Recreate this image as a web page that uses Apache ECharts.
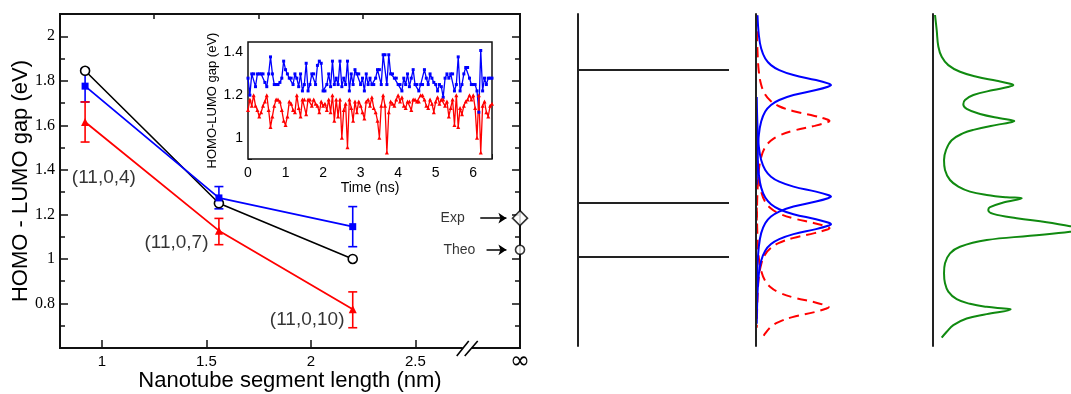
<!DOCTYPE html>
<html>
<head>
<meta charset="utf-8">
<script src="https://cdn.jsdelivr.net/npm/echarts@6/dist/echarts.min.js"></script>
<style>
  html, body { margin: 0; background: #fff; }
  #chart { width: 1071px; height: 394px; }
</style>
</head>
<body>
<div id="chart"></div>
<script>
// main panel: gap vs segment length of the (11,0,n) tubes
const segLength = [0.92, 1.56, 2.2];
const tubeNames = ['(11,0,4)', '(11,0,7)', '(11,0,10)'];
const tubeLabelPos = [[1.01, 1.366], [1.357, 1.074], [1.982, 0.729]];
const gapTheo = [1.845, 1.25, 1.0];
const gapBlue = [1.776, 1.274, 1.145];
const errBlue = [[1.705, 1.855], [1.225, 1.325], [1.055, 1.235]];
const gapRed = [1.615, 1.127, 0.774];
const errRed = [[1.525, 1.705], [1.064, 1.182], [0.691, 0.852]];
// infinite tube, drawn at x = 3 (the "∞" tick)
const infX = 3.0;
const gapExp = 1.183;
const gapTheoInf = 1.041;
const xTickLabels = [1, 1.5, 2, 2.5, 3];

// inset: gap along the MD run, one value every 0.05 ns
const dt = 0.05;
const blueRun = [
  1.28, 1.20, 1.30, 1.30, 1.24, 1.30, 1.30, 1.30, 1.30, 1.26,
  1.24, 1.30, 1.38, 1.30, 1.25, 1.25, 1.25, 1.26, 1.28, 1.36,
  1.32, 1.30, 1.28, 1.28, 1.25, 1.30, 1.28, 1.24, 1.30, 1.22,
  1.25, 1.35, 1.22, 1.25, 1.30, 1.30, 1.25, 1.34, 1.36, 1.35,
  1.22, 1.22, 1.25, 1.30, 1.24, 1.36, 1.25, 1.28, 1.25, 1.36,
  1.24, 1.28, 1.25, 1.36, 1.22, 1.30, 1.25, 1.32, 1.30, 1.30,
  1.25, 1.28, 1.22, 1.30, 1.25, 1.28, 1.25, 1.25, 1.28, 1.32,
  1.32, 1.25, 1.39, 1.39, 1.25, 1.39, 1.30, 1.30, 1.28, 1.28,
  1.25, 1.25, 1.22, 1.28, 1.25, 1.30, 1.24, 1.28, 1.32, 1.25,
  1.25, 1.22, 1.25, 1.25, 1.32, 1.28, 1.25, 1.30, 1.28, 1.26,
  1.25, 1.22, 1.25, 1.24, 1.19, 1.28, 1.30, 1.28, 1.30, 1.30,
  1.22, 1.25, 1.38, 1.22, 1.25, 1.30, 1.33, 1.33, 1.28, 1.25,
  1.25, 1.25, 1.22, 1.12, 1.41, 1.22, 1.28, 1.25, 1.28, 1.28,
  1.28
];
const redRun = [
  1.13, 1.18, 1.15, 1.20, 1.15, 1.13, 1.10, 1.12, 1.15, 1.17,
  1.20, 1.13, 1.05, 1.10, 1.15, 1.18, 1.18, 1.17, 1.13, 1.08,
  1.06, 1.10, 1.17, 1.16, 1.13, 1.12, 1.20, 1.14, 1.10, 1.18,
  1.18, 1.11, 1.18, 1.18, 1.15, 1.18, 1.16, 1.15, 1.12, 1.17,
  1.15, 1.16, 1.13, 1.18, 1.12, 1.20, 1.08, 1.18, 1.10, 1.18,
  1.00, 1.13, 1.16, 0.955, 1.18, 1.14, 1.08, 1.17, 1.12, 1.17,
  1.15, 1.12, 1.09, 1.17, 1.18, 1.15, 1.19, 1.14, 1.12, 1.08,
  1.00, 1.15, 1.20, 1.15, 0.93, 1.12, 1.17, 1.16, 1.15, 1.18,
  1.20, 1.17, 1.19, 1.15, 1.14, 1.17, 1.17, 1.13, 1.18, 1.18,
  1.17, 1.17, 1.20, 1.20, 1.18, 1.15, 1.14, 1.18, 1.16, 1.12,
  1.17, 1.19, 1.16, 1.18, 1.18, 1.15, 1.17, 1.10, 1.14, 1.18,
  1.06, 1.20, 1.05, 1.14, 1.11, 1.15, 1.17, 1.18, 1.20, 1.18,
  1.20, 1.14, 1.00, 1.20, 0.93, 1.15, 1.17, 1.12, 1.10, 1.15,
  1.16
];

// right panels: energy (arb. units, 0..10) vs intensity
const levelE = [8.31, 4.31, 2.68];
// [intensity, energy], top to bottom
const bluePeaks = [
  [[0.02, 9.96], [0.038, 9.36], [0.069, 8.96], [0.123, 8.66], [0.2, 8.46], [0.31, 8.31], [0.5, 8.16], [0.8, 8.01], [0.96, 7.91], [1, 7.86],
   [0.96, 7.81], [0.8, 7.71], [0.5, 7.56], [0.31, 7.41], [0.2, 7.26], [0.123, 7.06], [0.069, 6.76], [0.038, 6.36], [0.02, 5.76], [0.01, 4.86]],
  [[0.01, 7.5], [0.02, 6.6], [0.038, 6.0], [0.069, 5.6], [0.123, 5.3], [0.2, 5.1], [0.31, 4.95], [0.5, 4.8], [0.8, 4.65], [0.96, 4.55], [1, 4.5],
   [0.96, 4.45], [0.8, 4.35], [0.5, 4.2], [0.31, 4.05], [0.2, 3.9], [0.123, 3.7], [0.069, 3.4], [0.038, 3.0], [0.02, 2.4], [0.01, 1.5]],
  [[0.01, 6.67], [0.02, 5.77], [0.038, 5.17], [0.069, 4.77], [0.123, 4.47], [0.2, 4.27], [0.31, 4.12], [0.5, 3.97], [0.8, 3.82], [0.96, 3.72], [1, 3.67],
   [0.96, 3.62], [0.8, 3.52], [0.5, 3.37], [0.31, 3.22], [0.2, 3.07], [0.123, 2.87], [0.069, 2.57], [0.038, 2.17], [0.02, 1.57], [0.01, 0.67]]
];
const redPeaks = [
  [[0.009, 9.96], [0.01, 9.78], [0.02, 8.88], [0.037, 8.28], [0.068, 7.88], [0.12, 7.58], [0.196, 7.38], [0.3, 7.23], [0.49, 7.08], [0.78, 6.93], [0.94, 6.83], [0.98, 6.78],
   [0.94, 6.73], [0.78, 6.63], [0.49, 6.48], [0.3, 6.33], [0.196, 6.18], [0.12, 5.98], [0.068, 5.68], [0.037, 5.28], [0.02, 4.68], [0.01, 3.78]],
  [[0.01, 6.55], [0.02, 5.65], [0.037, 5.05], [0.068, 4.65], [0.12, 4.35], [0.196, 4.15], [0.3, 4.0], [0.49, 3.85], [0.78, 3.7], [0.94, 3.6], [0.98, 3.55],
   [0.94, 3.5], [0.78, 3.4], [0.49, 3.25], [0.3, 3.1], [0.196, 2.95], [0.12, 2.75], [0.068, 2.45], [0.037, 2.05], [0.02, 1.45], [0.01, 0.55]],
  [[0.01, 4.17], [0.02, 3.27], [0.037, 2.67], [0.068, 2.27], [0.12, 1.97], [0.195, 1.77], [0.3, 1.62], [0.485, 1.47], [0.78, 1.32], [0.93, 1.22], [0.97, 1.17],
   [0.93, 1.12], [0.78, 1.02], [0.485, 0.87], [0.3, 0.72], [0.195, 0.57], [0.12, 0.37], [0.09, 0.25]]
];
const totalDos = [
  [0.027, 9.97], [0.049, 9.52], [0.071, 9.02], [0.116, 8.71], [0.204, 8.46], [0.36, 8.26], [0.582, 8.11],
  [0.849, 7.99], [1.03, 7.9], [1.071, 7.86], [1.0, 7.8], [0.804, 7.71], [0.538, 7.56], [0.427, 7.41],
  [0.404, 7.28], [0.449, 7.14], [0.627, 6.99], [0.893, 6.86], [1.05, 6.8], [1.084, 6.78], [1.02, 6.73],
  [0.849, 6.66], [0.538, 6.51], [0.404, 6.41], [0.249, 6.2], [0.173, 5.9], [0.147, 5.6], [0.16, 5.3],
  [0.227, 5.0], [0.338, 4.8], [0.493, 4.65], [0.716, 4.55], [0.98, 4.48], [1.183, 4.45], [0.938, 4.32],
  [0.76, 4.18], [0.737, 4.1], [0.804, 3.98], [1.116, 3.85], [1.516, 3.73], [1.827, 3.61], [2.05, 3.545],
  [1.827, 3.44], [1.293, 3.32], [0.716, 3.19], [0.36, 2.99], [0.227, 2.79], [0.16, 2.49], [0.147, 2.19],
  [0.16, 1.89], [0.204, 1.64], [0.316, 1.41], [0.493, 1.27], [0.716, 1.18], [0.95, 1.13], [1.036, 1.11],
  [0.716, 0.96], [0.449, 0.83], [0.271, 0.63], [0.183, 0.43], [0.116, 0.25]
];

const SANS = 'Liberation Sans, Arial, sans-serif';
const SERIF = 'Liberation Serif, Times New Roman, serif';
const BLUE = '#0000ff', RED = '#ff0000', GREEN = '#108a10', INK = '#111';

function errorBars(errs, color) {
  return {
    type: 'custom', xAxisIndex: 0, yAxisIndex: 0, z: 3,
    data: errs.map((e, i) => [segLength[i], e[0], e[1]]),
    encode: { x: 0, y: [1, 2] },
    renderItem: (params, api) => {
      const lo = api.coord([api.value(0), api.value(1)]);
      const hi = api.coord([api.value(0), api.value(2)]);
      const w = 4.5;
      const style = { stroke: color, lineWidth: 1.6 };
      return {
        type: 'group', children: [
          { type: 'line', shape: { x1: lo[0], y1: lo[1], x2: hi[0], y2: hi[1] }, style },
          { type: 'line', shape: { x1: lo[0] - w, y1: lo[1], x2: lo[0] + w, y2: lo[1] }, style },
          { type: 'line', shape: { x1: hi[0] - w, y1: hi[1], x2: hi[0] + w, y2: hi[1] }, style }
        ]
      };
    }
  };
}

// xi = index of both the x and the y axis of that panel
function dosLine(points, color, dashed, xi) {
  return {
    type: 'line', xAxisIndex: xi, yAxisIndex: xi, data: points,
    showSymbol: false, smooth: 0.4, z: 2,
    lineStyle: { color, width: 2, type: dashed ? [10, 6] : 'solid' }
  };
}

const hiddenAxis = { show: false };
const panelY = (gi) => ({
  gridIndex: gi, type: 'value', min: 0, max: 10, z: 5,
  axisLine: { show: true, lineStyle: { color: '#222', width: 2 } },
  axisTick: { show: false }, axisLabel: { show: false }, splitLine: { show: false }
});

const inY = (v) => [1, 1.2, 1.4].some(t => Math.abs(t - v) < 1e-6);

const option = {
  animation: false,
  backgroundColor: '#fff',
  grid: [
    { left: 60, top: 14, width: 460, height: 334, show: true, borderColor: INK, borderWidth: 2, backgroundColor: 'transparent', outerBoundsMode: 'none' },
    { left: 248, top: 42, width: 244, height: 117, show: true, borderColor: INK, borderWidth: 1.5, backgroundColor: '#fff', z: 4, outerBoundsMode: 'none' },
    { left: 578, top: 14, width: 151, height: 332, outerBoundsMode: 'none' },
    { left: 756, top: 14, width: 105, height: 332, outerBoundsMode: 'none' },
    { left: 933, top: 14, width: 140, height: 332, outerBoundsMode: 'none' }
  ],
  xAxis: [
    {
      gridIndex: 0, type: 'value', min: 0.8, max: 3.0,
      axisLine: { show: false }, splitLine: { show: false },
      axisTick: { inside: true, length: 8, customValues: [1, 1.5, 2, 2.5], lineStyle: { color: INK, width: 1.5 } },
      axisLabel: {
        customValues: xTickLabels, margin: 6, color: '#000', fontFamily: SANS, fontSize: 15,
        formatter: v => (v === infX ? '{inf|∞}' : String(v)),
        rich: { inf: { fontFamily: 'DejaVu Sans', fontSize: 24, lineHeight: 15, color: '#000' } }
      },
      name: 'Nanotube segment length (nm)', nameLocation: 'middle', nameGap: 22, nameMoveOverlap: false,
      nameTextStyle: { fontFamily: SANS, fontSize: 22, color: '#000' }
    },
    {
      gridIndex: 0, type: 'value', min: 0.8, max: 3.0,
      axisLine: { show: false }, splitLine: { show: false }, axisLabel: { show: false },
      axisTick: { inside: true, length: 5, customValues: [1.25, 1.75, 2.25], lineStyle: { color: INK, width: 1.5 } }
    },
    {
      gridIndex: 1, type: 'value', min: 0, max: 6.5, interval: 1,
      axisLine: { show: false }, splitLine: { show: false },
      axisTick: { inside: true, length: 5, lineStyle: { color: INK } },
      minorTick: { show: true, splitNumber: 2, length: 3, lineStyle: { color: INK } },
      axisLabel: { margin: 7, color: '#000', fontFamily: SANS, fontSize: 14, showMaxLabel: false,
        formatter: v => (Number.isInteger(v) ? String(v) : '') },
      name: 'Time (ns)', nameLocation: 'middle', nameGap: 22, nameMoveOverlap: false,
      nameTextStyle: { fontFamily: SANS, fontSize: 14, color: '#000' }
    },
    { gridIndex: 2, type: 'value', min: 0, max: 1, ...hiddenAxis },
    { gridIndex: 3, type: 'value', min: 0, max: 1.4, ...hiddenAxis },
    { gridIndex: 4, type: 'value', min: 0, max: 1.8667, ...hiddenAxis }
  ],
  yAxis: [
    {
      gridIndex: 0, type: 'value', min: 0.6, max: 2.1, interval: 0.2,
      axisLine: { show: false }, splitLine: { show: false },
      axisTick: { inside: true, length: 8, lineStyle: { color: INK, width: 1.5 } },
      minorTick: { show: true, splitNumber: 2, length: 5, lineStyle: { color: INK, width: 1.5 } },
      axisLabel: {
        margin: 5, color: '#000', fontFamily: SERIF, fontSize: 16, showMaxLabel: false,
        formatter: v => (v < 0.7 || v > 2.05 ? '' : String(v))
      },
      name: 'HOMO - LUMO gap (eV)', nameLocation: 'middle', nameGap: 28, nameMoveOverlap: false,
      nameTextStyle: { fontFamily: SANS, fontSize: 22, color: '#000' }
    },
    {
      gridIndex: 0, type: 'value', min: 0.6, max: 2.1, interval: 0.2, position: 'right',
      axisLine: { show: false }, splitLine: { show: false }, axisLabel: { show: false },
      axisTick: { inside: true, length: 8, lineStyle: { color: INK, width: 1.5 } },
      minorTick: { show: true, splitNumber: 2, length: 5, lineStyle: { color: INK, width: 1.5 } }
    },
    {
      gridIndex: 1, type: 'value', min: 0.9, max: 1.45, interval: 0.1,
      axisLine: { show: false }, splitLine: { show: false },
      axisTick: { inside: true, length: 4, lineStyle: { color: INK } },
      axisLabel: {
        margin: 5, color: '#000', fontFamily: SANS, fontSize: 14, showMaxLabel: false,
        formatter: v => (inY(v) ? String(v) : '')
      },
      name: 'HOMO-LUMO gap (eV)', nameLocation: 'middle', nameGap: 29, nameMoveOverlap: false,
      nameTextStyle: { fontFamily: SANS, fontSize: 13, color: '#000' }
    },
    panelY(2), panelY(3), panelY(4)
  ],
  series: [
    // main panel
    {
      type: 'line', xAxisIndex: 0, yAxisIndex: 0, z: 4,
      data: segLength.map((x, i) => [x, gapTheo[i]]),
      symbol: 'circle', symbolSize: 9,
      itemStyle: { color: '#fff', borderColor: '#000', borderWidth: 1.6 },
      lineStyle: { color: '#000', width: 1.6 }
    },
    errorBars(errBlue, BLUE),
    {
      type: 'line', xAxisIndex: 0, yAxisIndex: 0, z: 4,
      data: segLength.map((x, i) => [x, gapBlue[i]]),
      symbol: 'rect', symbolSize: 7,
      itemStyle: { color: BLUE }, lineStyle: { color: BLUE, width: 1.8 }
    },
    errorBars(errRed, RED),
    {
      type: 'line', xAxisIndex: 0, yAxisIndex: 0, z: 4,
      data: segLength.map((x, i) => [x, gapRed[i]]),
      symbol: 'triangle', symbolSize: 8,
      itemStyle: { color: RED }, lineStyle: { color: RED, width: 1.8 }
    },
    {
      type: 'scatter', xAxisIndex: 0, yAxisIndex: 0, z: 6,
      data: [[infX, gapExp]], symbol: 'diamond', symbolSize: 15,
      itemStyle: { color: '#fff', borderColor: '#000', borderWidth: 1.6 }
    },
    {
      type: 'scatter', xAxisIndex: 0, yAxisIndex: 0, z: 6,
      data: [[infX, gapTheoInf]], symbol: 'circle', symbolSize: 9,
      itemStyle: { color: '#fff', borderColor: '#000', borderWidth: 1.6 }
    },
    {
      type: 'lines', coordinateSystem: 'cartesian2d', xAxisIndex: 0, yAxisIndex: 0, z: 6,
      symbol: ['none', 'arrow'], symbolSize: 8,
      lineStyle: { color: '#000', width: 1.5, opacity: 1 },
      data: [
        { coords: [[2.81, gapExp], [2.935, gapExp]] },
        { coords: [[2.84, gapTheoInf], [2.935, gapTheoInf]] }
      ]
    },
    {
      type: 'scatter', xAxisIndex: 0, yAxisIndex: 0, z: 6, symbolSize: 0, silent: true,
      data: tubeNames.map((n, i) => [tubeLabelPos[i][0], tubeLabelPos[i][1], n]),
      label: { show: true, position: 'inside', formatter: p => p.data[2], fontFamily: SANS, fontSize: 19, color: '#000' }
    },
    {
      type: 'scatter', xAxisIndex: 0, yAxisIndex: 0, z: 6, symbolSize: 0, silent: true,
      data: [[2.678, gapExp, 'Exp'], [2.71, gapTheoInf, 'Theo']],
      label: { show: true, position: 'inside', formatter: p => p.data[2], fontFamily: SANS, fontSize: 14, color: '#000' }
    },
    {
      // axis break on the bottom axis
      type: 'custom', xAxisIndex: 0, yAxisIndex: 0, z: 7, silent: true,
      data: [[2.75, 0.6]],
      renderItem: (params, api) => {
        const c = api.coord([api.value(0), api.value(1)]);
        const st = { stroke: '#000', lineWidth: 1.6 };
        return {
          type: 'group', children: [
            { type: 'rect', shape: { x: c[0] - 5, y: c[1] - 2, width: 9, height: 4 }, style: { fill: '#fff' } },
            { type: 'line', shape: { x1: c[0] - 11, y1: c[1] + 8, x2: c[0] + 1, y2: c[1] - 7 }, style: st },
            { type: 'line', shape: { x1: c[0] - 3, y1: c[1] + 8, x2: c[0] + 10, y2: c[1] - 7 }, style: st }
          ]
        };
      }
    },
    // inset
    {
      type: 'line', xAxisIndex: 2, yAxisIndex: 2, z: 5,
      data: blueRun.map((v, i) => [i * dt, v]),
      symbol: 'rect', symbolSize: 3, showAllSymbol: true,
      itemStyle: { color: BLUE }, lineStyle: { color: BLUE, width: 1.3 }
    },
    {
      type: 'line', xAxisIndex: 2, yAxisIndex: 2, z: 5,
      data: redRun.map((v, i) => [i * dt, v]),
      symbol: 'triangle', symbolSize: 4, showAllSymbol: true,
      itemStyle: { color: RED }, lineStyle: { color: RED, width: 1.3 }
    },
    // energy levels
    {
      type: 'custom', xAxisIndex: 3, yAxisIndex: 3, z: 2,
      data: levelE.map(e => [0, 1, e]),
      encode: { x: [0, 1], y: 2 },
      renderItem: (params, api) => {
        const a = api.coord([api.value(0), api.value(2)]);
        const b = api.coord([api.value(1), api.value(2)]);
        return { type: 'line', shape: { x1: a[0], y1: a[1], x2: b[0], y2: b[1] }, style: { stroke: '#222', lineWidth: 2 } };
      }
    },
    // partial DOS
    ...redPeaks.map(p => dosLine(p, RED, true, 4)),
    ...bluePeaks.map(p => dosLine(p, BLUE, false, 4)),
    // total DOS
    dosLine(totalDos, GREEN, false, 5)
  ]
};

const chart = echarts.init(document.getElementById('chart'));
chart.setOption(option);
</script>
</body>
</html>
